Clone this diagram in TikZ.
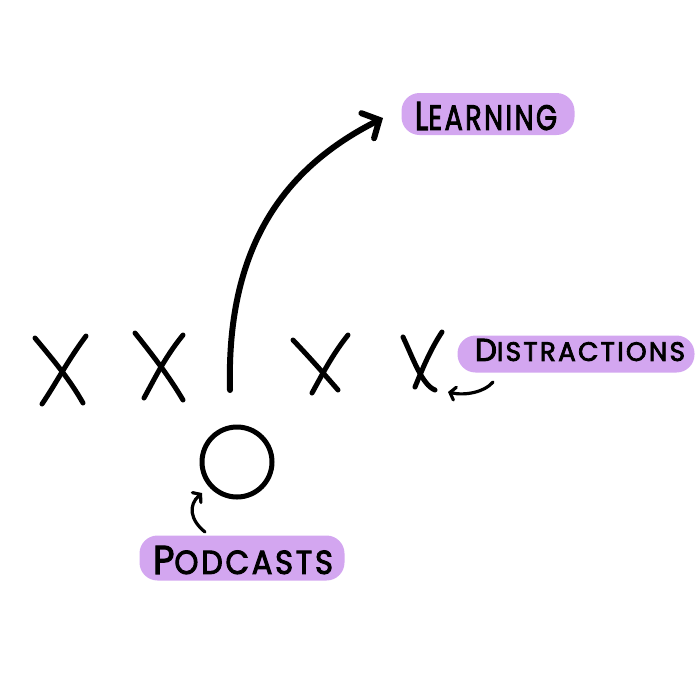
\documentclass[tikz,border=0pt]{standalone}
\usepackage{graphicx}
\usepackage{fontspec}
\newfontfamily\lblfont{Poppins}[LetterSpace=9,FakeBold=3]
\usetikzlibrary{arrows.meta}
\definecolor{lilac}{RGB}{211,166,240}
\begin{document}
\begin{tikzpicture}[x=1pt,y=-1pt,
  ink/.style={line width=5pt,line cap=round,black},
  bigarrow/.style={line width=6pt,line cap=round,-{Straight Barb[length=13pt,width=28pt,line cap=round]}},
  smallarrow/.style={line width=3.2pt,line cap=round,-{Straight Barb[length=5pt,width=13pt,line cap=round]}},
  pill/.style={fill=lilac,rounded corners=18pt,inner sep=0pt,draw=none},
  lbl/.style={inner sep=0pt,font=\lblfont}]
\useasboundingbox (0,0) rectangle (700,678);
% X marks
\draw[ink] (35,338) .. controls (55,362) and (70,380) .. (83,403);
\draw[ink] (86,336) .. controls (68,360) and (55,385) .. (42,404);
\draw[ink] (135,333) .. controls (155,358) and (170,378) .. (183,400);
\draw[ink] (183,335) .. controls (165,357) and (155,378) .. (144,398);
\draw[ink] (293,340) .. controls (312,360) and (325,375) .. (338,390);
\draw[ink] (348,335) .. controls (332,355) and (322,375) .. (312,393);
\draw[ink] (403,337) .. controls (413,358) and (422,385) .. (435,390);
\draw[ink] (442,332) .. controls (430,350) and (422,370) .. (415,387);
% circle (podcast)
\node[circle,draw,line width=5pt,minimum size=70pt,inner sep=0pt] (pod) at (237,462) {};
% labels
\node[pill,minimum width=173pt,minimum height=42pt] (lbox) at (488,114) {};
\node[lbl] (ltext) at (486,116) {\resizebox{142pt}{28pt}{\fontsize{40}{40}\selectfont L\fontsize{35}{35}\selectfont EARNING}};
\node[pill,minimum width=237pt,minimum height=37pt] (dbox) at (576,354) {};
\node[lbl] (dtext) at (580,350) {\resizebox{210pt}{22pt}{\fontsize{32}{32}\selectfont D\fontsize{27}{27}\selectfont ISTRACTIONS}};
\node[pill,minimum width=205pt,minimum height=45pt] (pbox) at (242,558) {};
\node[lbl] (ptext) at (243,560) {\resizebox{180pt}{28pt}{\fontsize{40}{40}\selectfont P\fontsize{33}{33}\selectfont ODCASTS}};
% arrows
\coordinate (start) at (230,390);
\coordinate (ltip) at (383,118);
\draw[bigarrow] (start) .. controls (226,240) and (290,165) .. (ltip);
\coordinate (pstart) at (205,532);
\coordinate (ptip) at (202,493);
\draw[smallarrow] (pstart) .. controls (190,520) and (188,505) .. (ptip);
\coordinate (dstart) at (493,382);
\coordinate (dtip) at (448,392);
\draw[smallarrow] (dstart) .. controls (485,392) and (465,396) .. (dtip);
\end{tikzpicture}
\end{document}
